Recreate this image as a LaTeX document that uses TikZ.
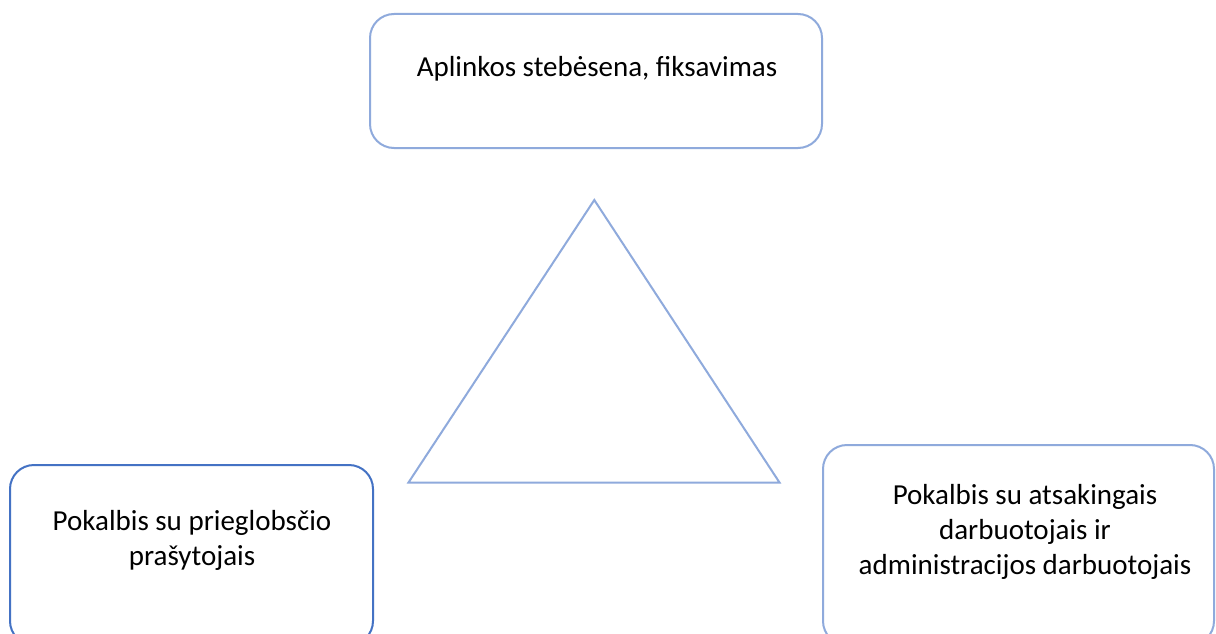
\documentclass[tikz,border=0pt]{standalone}
\usepackage{fontspec}
\setmainfont{Carlito}
\definecolor{lightblue}{HTML}{8FAADC}
\definecolor{darkblue}{HTML}{4472C4}
\begin{document}
\begin{tikzpicture}[x=1pt,y=-1pt,
  box/.style={draw=lightblue,line width=2pt,rounded corners=24pt,fill=none},
  txt/.style={align=center,font=\fontsize{29}{35}\selectfont,inner sep=0pt,text=black}]
\clip (0,0) rectangle (1216,634);
\fill[white] (0,0) rectangle (1216,634);
% boxes
\draw[box] (370,14) rectangle (822,148);
\node (topbox) at (596,81) {};
\draw[box,draw=darkblue] (10,465) rectangle (373,645);
\node (leftbox) at (191,555) {};
\draw[box] (823,445) rectangle (1214,645);
\node (rightbox) at (1018,545) {};
% triangle
\coordinate (apex) at (594.3,200);
\coordinate (bl) at (408.5,482.5);
\coordinate (br) at (779.5,482.5);
\draw[lightblue,line width=2pt,line join=miter] (apex) -- (bl) -- (br) -- cycle;
% texts
\node[txt,anchor=base] (toptext) at (597,76.7) {Aplinkos stebėsena, fiksavimas};
\node[txt] (lefttext) at (192,540) {Pokalbis su prieglobsčio\\prašytojais};
\node[txt] (righttext) at (1025,532) {Pokalbis su atsakingais\\darbuotojais ir\\administracijos darbuotojais};
\end{tikzpicture}
\end{document}
